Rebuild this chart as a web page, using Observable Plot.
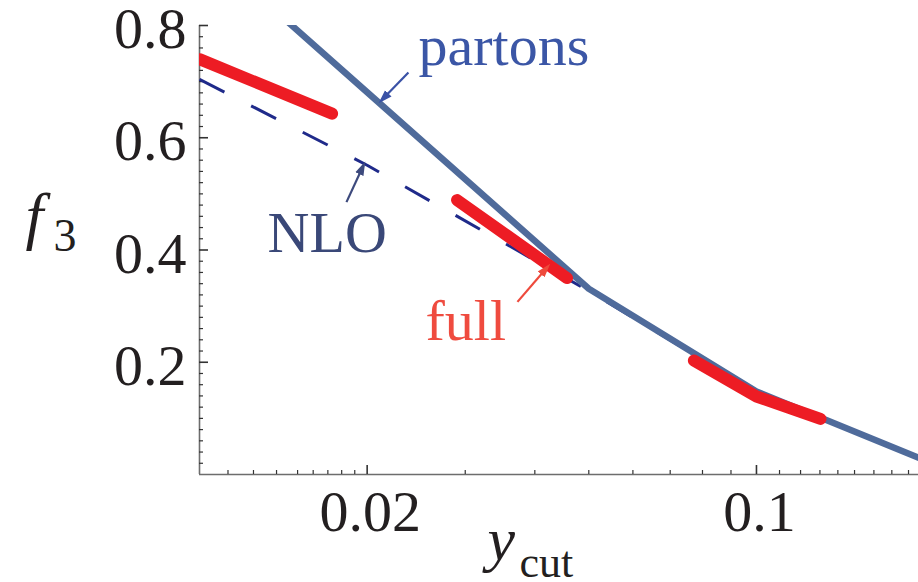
<!DOCTYPE html>
<html>
<head>
<meta charset="utf-8">
<script src="https://cdn.jsdelivr.net/npm/d3@7"></script>
<script src="https://cdn.jsdelivr.net/npm/@observablehq/plot@0.6"></script>
<style>
  html, body { margin: 0; padding: 0; background: #fff; overflow: hidden; }
  #chart svg text { font-family: "Liberation Serif", "Times New Roman", serif !important; }
</style>
</head>
<body>
<div id="chart"></div>
<script>
// ---- data ----
const yCut = [0.01, 0.02, 0.05, 0.1, 0.2];
const partons = [0.946, 0.681, 0.331, 0.148, 0.026];
const nlo = [0.704, 0.551, 0.327, 0.147, 0.026];

const fullSeg = [1, 1, 2, 2, 3, 3, 3];
const fullX = [0.01, 0.0173, 0.029, 0.0457, 0.0772, 0.1, 0.1303];
const fullY = [0.740, 0.643, 0.489, 0.350, 0.203, 0.139, 0.099];

const xMajor = [0.02, 0.1];
const xMajorLabels = ["0.02", "0.1"];
const xMinor = [0.01125, 0.0125, 0.01375, 0.015, 0.016, 0.017, 0.018, 0.019,
                0.03, 0.04, 0.05, 0.06, 0.07, 0.08, 0.09,
                0.11, 0.12, 0.13, 0.14, 0.15, 0.1625, 0.175, 0.1875];
const yMajor = [0.2, 0.4, 0.6, 0.8];
const yMajorLabels = ["0.2", "0.4", "0.6", "0.8"];
const yMinor = [0.02, 0.04, 0.06, 0.08, 0.10, 0.12, 0.14, 0.16, 0.18,
                0.22, 0.24, 0.26, 0.28, 0.30, 0.32, 0.34, 0.36, 0.38,
                0.42, 0.44, 0.46, 0.48, 0.50, 0.52, 0.54, 0.56, 0.58,
                0.62, 0.64, 0.66, 0.68, 0.70, 0.72, 0.74, 0.76, 0.78];

const labelText = ["partons", "NLO", "full"];
const labelX = [0.02473, 0.01325, 0.02545];
const labelY = [0.729, 0.3964, 0.24];
const arrowX1 = [0.02372, 0.01836, 0.03723];
const arrowY1 = [0.7164, 0.4853, 0.3076];
const arrowX2 = [0.02122, 0.0197, 0.04215];
const arrowY2 = [0.6667, 0.5511, 0.3698];

// ---- styles ----
const partonsColor = "#4f6b9b";
const nloColor = "#1f2a8a";
const fullColor = "#ed1c24";
const labelColors = ["#3b56a6", "#3a4878", "#ef4b3f"];
const arrowColors = ["#3a52a6", "#3d4a7d", "#ee4a3c"];
const serif = "Liberation Serif, Times New Roman, serif";

const W = 918, H = 582, mL = 199, mR = 0, mT = 25, mB = 108;
const frameW = W - mL - mR, frameH = H - mT - mB;

const lineData = (ys) => yCut.map((x, i) => ({x, y: ys[i]}));
const fullData = fullX.map((x, i) => ({x, y: fullY[i], seg: fullSeg[i]}));
const idx = labelText.map((_, i) => i);

const svg = Plot.plot({
  width: W,
  height: H,
  marginLeft: mL,
  marginRight: mR,
  marginTop: mT,
  marginBottom: mB,
  style: {fontFamily: serif, background: "white", overflow: "visible"},
  x: {type: "log", domain: [0.01, 0.1954], axis: null},
  y: {domain: [0, 0.8], axis: null},
  marks: [
    // axes lines
    Plot.ruleX([0.01], {stroke: "#6d6d6d", strokeWidth: 1.6}),
    Plot.ruleY([0], {stroke: "#6d6d6d", strokeWidth: 1.6}),
    // ticks (inward)
    Plot.tickX(xMinor, {x: d => d, stroke: "#333", strokeWidth: 1.2, insetTop: frameH - 4}),
    Plot.tickX(xMajor, {x: d => d, stroke: "#333", strokeWidth: 1.6, insetTop: frameH - 9}),
    Plot.tickY(yMinor, {y: d => d, stroke: "#333", strokeWidth: 1.2, insetRight: frameW - 4}),
    Plot.tickY(yMajor, {y: d => d, stroke: "#333", strokeWidth: 1.6, insetRight: frameW - 9}),
    // tick labels
    Plot.text(xMajor, {x: d => d, text: (d, i) => xMajorLabels[i], frameAnchor: "bottom",
      lineAnchor: "bottom", dx: 3, dy: 56, fontSize: 58, fill: "#231f20"}),
    Plot.text(yMajor, {y: d => d, text: (d, i) => yMajorLabels[i], frameAnchor: "left",
      textAnchor: "end", lineAnchor: "middle", dx: -13, dy: 4, fontSize: 58, fill: "#231f20"}),
    // axis titles
    Plot.text(["f"], {text: d => d, frameAnchor: "top-left", textAnchor: "start", lineAnchor: "bottom",
      dx: -174, dy: 211, fontSize: 64, fontStyle: "italic", fill: "#231f20"}),
    Plot.text(["3"], {text: d => d, frameAnchor: "top-left", textAnchor: "start", lineAnchor: "bottom",
      dx: -146, dy: 225, fontSize: 46, fill: "#231f20"}),
    Plot.text(["y"], {text: d => d, frameAnchor: "bottom-left", textAnchor: "start", lineAnchor: "bottom",
      dx: 288, dy: 85, fontSize: 62, fontStyle: "italic", fill: "#231f20"}),
    Plot.text(["cut"], {text: d => d, frameAnchor: "bottom-left", textAnchor: "start", lineAnchor: "bottom",
      dx: 320, dy: 102, fontSize: 44, fill: "#231f20"}),
    // curves
    Plot.line(lineData(nlo), {x: "x", y: "y", stroke: nloColor, strokeWidth: 3,
      strokeDasharray: "28,30", strokeLinecap: "butt", clip: true}),
    Plot.line(lineData(partons), {x: "x", y: "y", stroke: partonsColor, strokeWidth: 6.5,
      strokeLinecap: "butt", clip: true}),
    Plot.line(fullData, {x: "x", y: "y", z: "seg", stroke: fullColor, strokeWidth: 12,
      strokeLinecap: "round", strokeLinejoin: "round", clip: true}),
    // labels
    ...idx.map(i => Plot.text([i], {x: d => labelX[d], y: d => labelY[d], text: d => labelText[d],
      textAnchor: "start", lineAnchor: "bottom", fontSize: 58, fill: labelColors[i]})),
    // arrows
    ...idx.map(i => Plot.link([i], {x1: d => arrowX1[d], y1: d => arrowY1[d], x2: d => arrowX2[d], y2: d => arrowY2[d],
      stroke: arrowColors[i], strokeWidth: 2.2, markerEnd: "arrow"}))
  ]
});

// make arrow heads filled triangles like the reference
svg.querySelectorAll("marker").forEach(m => {
  const c = m.getAttribute("stroke") || "currentColor";
  m.setAttribute("markerUnits", "userSpaceOnUse");
  m.setAttribute("viewBox", "-5 -5 10 10");
  m.setAttribute("markerWidth", "14");
  m.setAttribute("markerHeight", "14");
  m.setAttribute("refX", "2");
  m.setAttribute("refY", "0");
  m.setAttribute("fill", c);
  m.setAttribute("stroke", "none");
  while (m.firstChild) m.removeChild(m.firstChild);
  const p = document.createElementNS("http://www.w3.org/2000/svg", "path");
  p.setAttribute("d", "M-5,-3.2L5,0L-5,3.2Z");
  p.setAttribute("fill", c);
  p.setAttribute("stroke", "none");
  m.appendChild(p);
});

document.getElementById("chart").appendChild(svg);
</script>
</body>
</html>
